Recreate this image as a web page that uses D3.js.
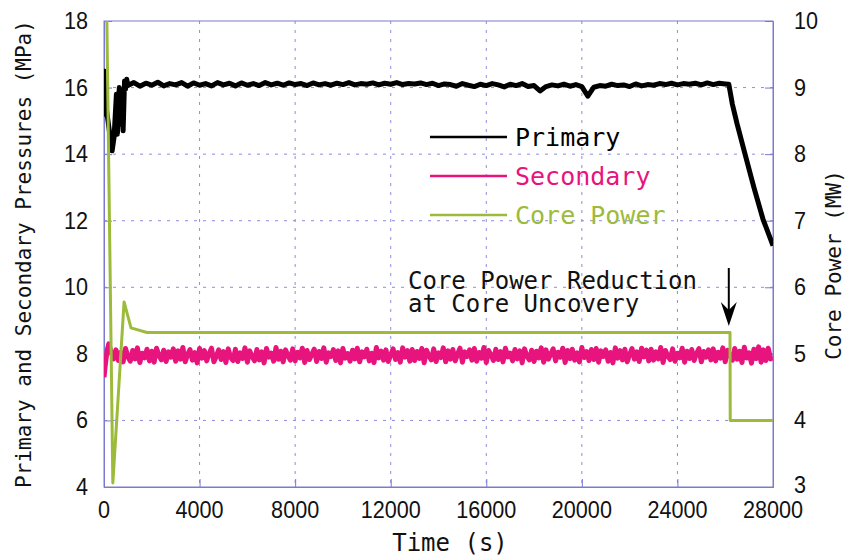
<!DOCTYPE html>
<html>
<head>
<meta charset="utf-8">
<script src="https://cdn.jsdelivr.net/npm/d3@7"></script>
<style>
  html, body { margin: 0; padding: 0; background: #fff; }
  svg { display: block; }
</style>
</head>
<body>
<svg id="chart" width="853" height="557"></svg>
<script>
// ---------------- DATA ----------------
const xTickValues = [0, 4000, 8000, 12000, 16000, 20000, 24000, 28000];
const leftTickValues = [4, 6, 8, 10, 12, 14, 16, 18];
const rightTickValues = [3, 4, 5, 6, 7, 8, 9, 10];

const seriesNames = ["Primary", "Secondary", "Core Power"];

// Primary pressure (MPa): start-up transient [time s, value]
const primaryStart = [
  [0, 15.3], [15, 16.5], [35, 15.2], [60, 16.1], [90, 15.4], [340, 14.1],
  [420, 14.5], [520, 15.8], [560, 14.6], [640, 16.0], [690, 14.9], [740, 15.9],
  [800, 14.7], [860, 16.2], [900, 15.95], [950, 16.25]
];
// Primary pressure plateau, sampled every 250 s from 1000 s to 26000 s
const primaryPlateauStart = 1000;
const primaryPlateauStep = 250;
const primaryPlateau = [
  16.06,16.15,16.04,16.13,16.07,16.16,16.05,16.12,16.08,16.15,
  16.04,16.14,16.07,16.12,16.05,16.15,16.08,16.13,16.05,16.14,
  16.07,16.12,16.06,16.15,16.08,16.13,16.07,16.14,16.09,16.12,
  16.06,16.14,16.08,16.12,16.07,16.13,16.09,16.15,16.08,16.12,
  16.10,16.14,16.08,16.13,16.10,16.15,16.09,16.12,16.11,16.14,
  16.09,16.13,16.06,16.11,16.09,16.04,16.12,16.07,16.03,16.10,
  16.06,16.12,16.08,16.02,16.10,16.06,16.12,16.03,16.06,15.90,
  16.03,16.08,16.05,16.10,16.04,16.09,16.03,15.74,16.01,16.06,
  16.04,16.10,16.06,16.08,16.03,16.11,16.05,16.09,16.07,16.12,
  16.09,16.13,16.08,16.12,16.10,16.13,16.08,16.14,16.09,16.13,16.11
];
// Primary depressurisation after core uncovery
const primaryEnd = [
  [26150, 16.1], [26200, 15.9], [26300, 15.5], [26500, 14.9], [26830, 14.0],
  [27200, 13.0], [27580, 12.05], [28000, 11.25]
];

// Secondary pressure (MPa): start-up transient
const secondaryStart = [
  [0, 7.3], [60, 7.7], [130, 8.1], [200, 8.3], [300, 8.05], [400, 7.85]
];
// Secondary pressure, sampled every 100 s from 500 s to 27900 s
const secondaryNoiseStart = 500;
const secondaryNoiseStep = 100;
const secondaryNoise = [
  8.12,7.80,8.05,7.76,8.16,7.92,7.78,8.10,7.85,8.18,7.74,8.02,7.88,8.14,7.79,8.08,7.75,8.17,7.95,7.82,8.11,7.77,8.06,7.90,8.15,
  7.78,8.09,7.84,8.19,7.76,7.98,8.13,7.81,8.04,7.73,8.16,7.87,8.10,7.79,8.01,8.17,7.76,7.93,8.12,7.83,8.07,7.74,8.15,7.89,7.80,
  8.14,7.77,8.03,7.86,8.18,7.75,8.09,7.92,7.79,8.13,7.82,8.06,7.73,8.16,7.90,8.02,7.78,8.19,7.84,8.08,7.76,8.12,7.95,7.81,8.15,
  7.79,8.05,7.88,8.17,7.74,8.10,7.83,7.99,8.14,7.77,8.07,7.86,8.18,7.75,8.03,7.92,8.13,7.80,8.09,7.73,8.16,7.87,8.01,7.78,8.11,
  7.85,8.17,7.76,8.06,7.91,8.14,7.79,8.02,7.74,8.19,7.88,8.08,7.81,8.12,7.77,7.97,8.15,7.83,8.04,7.75,8.18,7.90,8.10,7.78,8.13,
  7.80,8.07,7.86,8.16,7.73,8.11,7.94,7.82,8.15,7.77,8.03,7.89,8.18,7.76,8.09,7.84,8.13,7.79,8.00,8.17,7.75,8.06,7.92,8.12,7.81,
  8.16,7.78,8.04,7.87,8.19,7.74,8.10,7.96,7.80,8.14,7.83,8.07,7.76,8.17,7.91,8.02,7.79,8.13,7.85,8.09,7.73,8.15,7.93,7.82,8.11,
  7.77,8.08,7.88,8.18,7.75,8.12,7.84,8.00,8.15,7.79,8.05,7.90,8.17,7.74,8.10,7.86,8.14,7.81,8.03,7.76,8.19,7.89,8.07,7.80,8.13,
  7.83,8.16,7.75,8.09,7.92,8.12,7.78,8.04,7.73,8.18,7.87,8.10,7.82,8.14,7.76,7.98,8.16,7.84,8.06,7.77,8.17,7.91,8.11,7.79,8.14,
  7.81,8.06,7.85,8.19,7.74,8.10,7.93,7.83,8.15,7.78,8.02,7.88,8.17,7.75,8.08,7.86,8.13,7.80,8.01,8.16,7.76,8.07,7.90,8.12,7.82,
  8.15,7.79,8.05,7.87,8.18,7.76,8.11,7.95,7.81,8.16,7.84,8.08,7.74,8.20,7.88,8.03,7.72,8.14,7.86,8.21,7.75,8.12,7.80,8.17,7.85
];
const secondaryLast = [28000, 7.9];

// Core power (MW)
const corePower = [
  [120, 10.0], [370, 3.06], [840, 5.78], [1130, 5.39], [1800, 5.32],
  [26200, 5.32], [26210, 4.0], [28000, 4.0]
];

const annotationLines = ["Core Power Reduction", "at Core Uncovery"];
const arrowTime = 26150;

// ---------------- BUILD SERIES ----------------
const primary = primaryStart
  .concat(primaryPlateau.map((v, i) => [primaryPlateauStart + i * primaryPlateauStep, v]))
  .concat(primaryEnd);
const secondary = secondaryStart
  .concat(secondaryNoise.map((v, i) => [secondaryNoiseStart + i * secondaryNoiseStep, v]))
  .concat([secondaryLast]);

// ---------------- LAYOUT ----------------
const svg = d3.select("#chart");
const L = 104, R = 773, T = 21, B = 487;

const x = d3.scaleLinear().domain([0, 28000]).range([L, R]);
const yL = d3.scaleLinear().domain([4, 18]).range([B, T]);
const yR = d3.scaleLinear().domain([3, 10]).range([B, T]);

const frameColor = "#7a7ad0";
const gridColor = "#8c8ce0";
const colPrimary = "#000000";
const colSecondary = "#e8147e";
const colCore = "#9cbb3a";
const monoFont = "'DejaVu Sans Mono', 'Liberation Mono', monospace";
const numFont = "'Liberation Sans', Arial, sans-serif";
const numScale = 0.9;

svg.append("defs").append("clipPath").attr("id", "plotclip")
  .append("rect").attr("x", L).attr("y", T).attr("width", R - L).attr("height", B - T);

// grid
const grid = svg.append("g");
grid.selectAll("line.vg").data(xTickValues.slice(1, -1)).join("line")
  .attr("x1", d => x(d)).attr("x2", d => x(d)).attr("y1", T).attr("y2", B)
  .attr("stroke", gridColor).attr("stroke-width", 1).attr("stroke-dasharray", "3,6");
grid.selectAll("line.hg").data(leftTickValues.slice(1, -1)).join("line")
  .attr("x1", L).attr("x2", R).attr("y1", d => yL(d)).attr("y2", d => yL(d))
  .attr("stroke", gridColor).attr("stroke-width", 1).attr("stroke-dasharray", "3,6");

// axes (inward ticks, labels drawn separately)
svg.append("g").attr("transform", `translate(0,${B})`)
  .call(d3.axisTop(x).tickValues(xTickValues).tickSize(8).tickFormat(""))
  .call(g => g.selectAll("line,path").attr("stroke", frameColor));
svg.append("g").attr("transform", `translate(${L},0)`)
  .call(d3.axisRight(yL).tickValues(leftTickValues).tickSize(8).tickFormat(""))
  .call(g => g.selectAll("line,path").attr("stroke", frameColor));
svg.append("g").attr("transform", `translate(${R},0)`)
  .call(d3.axisLeft(yR).tickValues(rightTickValues).tickSize(8).tickFormat(""))
  .call(g => g.selectAll("line,path").attr("stroke", frameColor));
svg.append("rect").attr("x", L).attr("y", T).attr("width", R - L).attr("height", B - T)
  .attr("fill", "none").attr("stroke", frameColor).attr("stroke-width", 1);

// tick labels (slightly condensed)
function numLabel(g, px, py, anchor, txt) {
  g.append("g").attr("transform", `translate(${px},${py}) scale(${numScale},1)`)
    .append("text").attr("text-anchor", anchor)
    .attr("font-family", numFont).attr("font-size", 24).attr("fill", "#111")
    .text(txt);
}
const xl = svg.append("g");
xTickValues.forEach(d => numLabel(xl, x(d), 518, "middle", d));
const ll = svg.append("g");
leftTickValues.forEach(d => numLabel(ll, 88, yL(d) + 8, "end", d));
const rl = svg.append("g");
rightTickValues.forEach(d => numLabel(rl, 794, yR(d) + (d === 3 ? 6 : 8), "start", d));

// axis titles
svg.append("text").attr("x", 450).attr("y", 551).attr("text-anchor", "middle")
  .attr("font-family", monoFont).attr("font-size", 24).attr("fill", "#111")
  .text("Time (s)");
svg.append("text").attr("transform", "translate(31,254) rotate(-90)")
  .attr("text-anchor", "middle")
  .attr("font-family", monoFont).attr("font-size", 21).attr("fill", "#111")
  .text("Primary and Secondary Pressures (MPa)");
svg.append("text").attr("transform", "translate(841,265) rotate(-90)")
  .attr("text-anchor", "middle")
  .attr("font-family", monoFont).attr("font-size", 21).attr("fill", "#111")
  .text("Core Power (MW)");

// series
const plot = svg.append("g").attr("clip-path", "url(#plotclip)");
const lineL = d3.line().x(d => x(d[0])).y(d => yL(d[1]));
const lineR = d3.line().x(d => x(d[0])).y(d => yR(d[1]));

plot.append("path").datum(secondary).attr("d", lineL)
  .attr("fill", "none").attr("stroke", colSecondary).attr("stroke-width", 5)
  .attr("stroke-linejoin", "round");
plot.append("path").datum(primary).attr("d", lineL)
  .attr("fill", "none").attr("stroke", colPrimary).attr("stroke-width", 5)
  .attr("stroke-linejoin", "round");
plot.append("path").datum(corePower).attr("d", lineR)
  .attr("fill", "none").attr("stroke", colCore).attr("stroke-width", 3)
  .attr("stroke-linejoin", "round");

// legend
const legendColors = [colPrimary, colSecondary, colCore];
const legendY = [137, 176, 215];
const leg = svg.append("g");
seriesNames.forEach((name, i) => {
  leg.append("line").attr("x1", 430).attr("x2", 507)
    .attr("y1", legendY[i]).attr("y2", legendY[i])
    .attr("stroke", legendColors[i]).attr("stroke-width", 2.5);
  leg.append("text").attr("x", 515).attr("y", legendY[i] + 9)
    .attr("font-family", monoFont).attr("font-size", 25)
    .attr("fill", legendColors[i]).text(name);
});

// annotation (one text block, two lines)
const ann = svg.append("text")
  .attr("font-family", monoFont).attr("font-size", 24).attr("fill", "#111");
annotationLines.forEach((t, i) => {
  ann.append("tspan").attr("x", 408).attr("y", 289 + i * 23).text(t);
});
const ax = x(arrowTime);
svg.append("line").attr("x1", ax).attr("x2", ax).attr("y1", 268).attr("y2", 318)
  .attr("stroke", "#000").attr("stroke-width", 2);
svg.append("path")
  .attr("d", `M${ax},326 L${ax - 8},302 L${ax},310 L${ax + 8},302 Z`)
  .attr("fill", "#000");
</script>
</body>
</html>
